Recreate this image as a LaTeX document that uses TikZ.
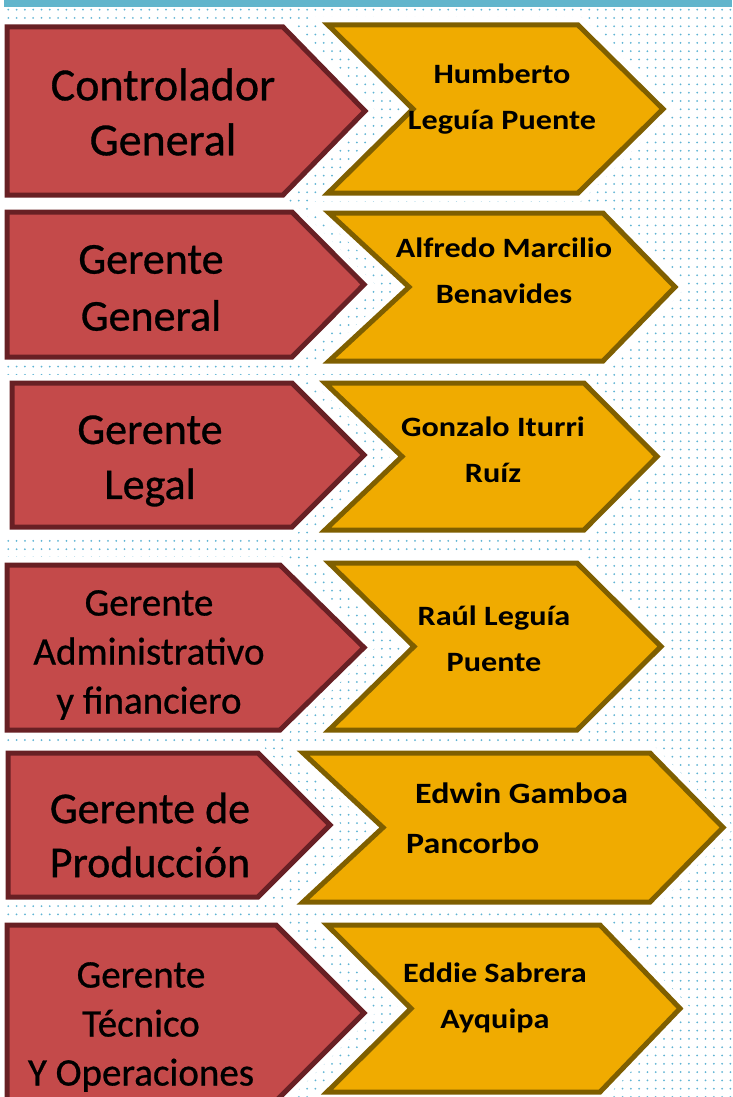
\documentclass[tikz,border=0pt]{standalone}
\usepackage{fontspec}
\setmainfont{Carlito}
\newfontfamily\rolefont[FakeBold=0.7]{Carlito}
\newfontfamily\namefont[FakeStretch=1.15]{Carlito}
\usetikzlibrary{patterns.meta}
\definecolor{barteal}{RGB}{97,181,204}
\definecolor{dotblue}{RGB}{95,180,212}
\definecolor{rolered}{RGB}{196,74,74}
\definecolor{roleedge}{RGB}{104,32,36}
\definecolor{namegold}{RGB}{240,171,0}
\definecolor{nameedge}{RGB}{127,95,0}
\tikzstyle{halo} = [draw=white, line width=16pt, line join=miter]
\tikzstyle{rolebox} = [fill=rolered, draw=roleedge, line width=5pt, line join=miter]
\tikzstyle{namebox} = [fill=namegold, draw=nameedge, line width=5pt, line join=miter]
\tikzstyle{roletext} = [inner sep=0pt, align=center, text=black]
\tikzstyle{nametext} = [inner sep=0pt, align=center, text=black,
font=\namefont\bfseries\fontsize{28}{46}\selectfont]

\begin{document}
\begin{tikzpicture}[x=1pt, y=-1pt]
\useasboundingbox (0,0) rectangle (732,1097);
\fill[white] (0,0) rectangle (732,1097);
\fill[pattern={Dots[distance=8.3pt, radius=1pt]}, pattern color=dotblue]
(5,7) rectangle (732,1097);
\fill[barteal] (4,0) rectangle (732,7);

% cargos: left / flat end / tip / top / bottom
\foreach \l/\f/\t/\a/\b in {7/283/365/27/195, 7/292/364/212/357,
12/292/364/383/527, 7/280/364/565/730, 8/258/330/753/897,
7/276/364/925/1101}{
  \draw[halo] (\l,\a) -- (\f,\a) -- (\t,{(\a+\b)/2}) -- (\f,\b) -- (\l,\b) -- cycle;
  \draw[rolebox] (\l,\a) -- (\f,\a) -- (\t,{(\a+\b)/2}) -- (\f,\b) -- (\l,\b) -- cycle;
}
% nombres: left / notch / flat end / tip / top / bottom
\foreach \l/\n/\f/\t/\a/\b in {328/413/578/663/25/193, 329/409/603/675/213/361,
325/402/584/657/383/530, 329/414/577/661/563/730, 303/383/650/723/753/902,
327/411/600/680/925/1092}{
  \draw[halo] (\l,\a) -- (\f,\a) -- (\t,{(\a+\b)/2}) -- (\f,\b) -- (\l,\b)
  -- (\n,{(\a+\b)/2}) -- cycle;
  \draw[namebox] (\l,\a) -- (\f,\a) -- (\t,{(\a+\b)/2}) -- (\f,\b) -- (\l,\b)
  -- (\n,{(\a+\b)/2}) -- cycle;
}

\node[roletext, font=\rolefont\fontsize{46}{55}\selectfont] (cargo1) at (163,112)
{Controlador\\General};
\node[roletext, font=\rolefont\fontsize{44}{57}\selectfont] (cargo2) at (151,288)
{Gerente\\General};
\node[roletext, font=\rolefont\fontsize{44}{55}\selectfont] (cargo3) at (150,461)
{Gerente\\Legal};
\node[roletext, font=\rolefont\fontsize{39}{49}\selectfont] (cargo4) at (149,655)
{Gerente\\Administrativo\\y financiero};
\node[roletext, font=\rolefont\fontsize{44}{54}\selectfont] (cargo5) at (150,835)
{Gerente de\\Producción};
\node[roletext, font=\rolefont\fontsize{39}{49}\selectfont] (cargo6) at (141,1027)
{Gerente\\Técnico\\Y Operaciones};

\node[nametext] (nombre1) at (502,99) {Humberto\\Leguía Puente};
\node[nametext] (nombre2) at (504,271) {Alfredo Marcilio\\Benavides};
\node[nametext] (nombre3) at (493,450) {Gonzalo Iturri\\Ruíz};
\node[nametext] (nombre4) at (494,639) {Raúl Leguía\\Puente};
\node[nametext, align=left, anchor=west,
font=\namefont\bfseries\fontsize{29.5}{50}\selectfont] (nombre5) at (406,818)
{\hspace{9pt}Edwin Gamboa\\Pancorbo};
\node[nametext] (nombre6) at (495,998) {Eddie Sabrera\\Ayquipa};
\end{tikzpicture}
\end{document}
